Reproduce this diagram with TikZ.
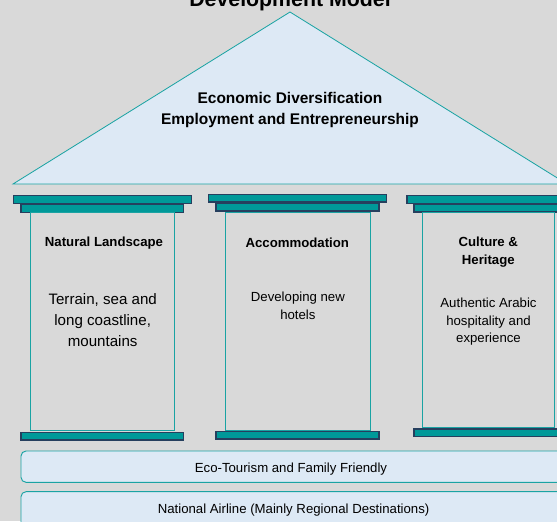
\documentclass[tikz,border=0pt]{standalone}
\usepackage{fontspec}
\setmainfont{Liberation Sans}
\definecolor{wallgray}{HTML}{D9D9D9}
\definecolor{capteal}{HTML}{009999}
\definecolor{capedge}{HTML}{263F5E}
\definecolor{lineteal}{HTML}{1AA3A3}
\definecolor{paleblue}{HTML}{DDE9F5}
\tikzset{
  wall/.style={fill=wallgray, draw=none},
  roof/.style={fill=paleblue, draw=lineteal, line width=0.7pt, line join=miter},
  capbar/.style={fill=capteal, draw=capedge, line width=1.1pt},
  shaft/.style={fill=wallgray, draw=lineteal, line width=0.7pt},
  band/.style={fill=paleblue, draw=lineteal, line width=0.8pt, rounded corners=0.15cm},
  titlelabel/.style={font=\fontsize{18.2}{20}\selectfont\bfseries, inner sep=0pt},
  rooflabel/.style={font=\fontsize{13.2}{17.7}\selectfont\bfseries, align=center, inner sep=0pt},
  headlabel/.style={font=\fontsize{11.27}{15.1}\selectfont\bfseries, align=center, inner sep=0pt},
  bodylabel/.style={font=\fontsize{11.27}{14.7}\selectfont, align=center, inner sep=0pt},
  biglabel/.style={font=\fontsize{12.9}{17.9}\selectfont, align=center, inner sep=0pt},
}
\begin{document}
\begin{tikzpicture}
\useasboundingbox (0,0) rectangle (16.710,15.630);
\fill[wall] (0,0) rectangle (16.710,15.630);
% roof
\node[titlelabel, anchor=base] (title) at (8.700,15.420) {Development Model};
\draw[roof] (0.390,10.110) -- (8.700,15.270) -- (17.010,10.110) -- cycle;
\node[rooflabel] (rooftext) at (8.700,12.320) {Economic Diversification\\Employment and Entrepreneurship};
% pillar 1
\draw[capbar] (0.399,9.759) rectangle (5.751,9.531);
\draw[capbar] (0.630,9.501) rectangle (5.511,9.261);
\draw[shaft] (0.909,9.249) rectangle (5.229,2.709);
\draw[capbar] (0.630,2.655) rectangle (5.511,2.430);
\node[headlabel] (natural) at (3.120,8.331) {Natural Landscape};
\node[biglabel] (terrain) at (3.081,6.021) {Terrain, sea and\\long coastline,\\mountains};
% pillar 2
\draw[capbar] (6.249,9.789) rectangle (11.601,9.570);
\draw[capbar] (6.480,9.531) rectangle (11.370,9.300);
\draw[shaft] (6.759,9.270) rectangle (11.100,2.730);
\draw[capbar] (6.480,2.685) rectangle (11.370,2.460);
\node[headlabel] (accom) at (8.919,8.361) {Accommodation};
\node[bodylabel] (hotels) at (8.937,6.456) {Developing new\\hotels};
% pillar 3
\draw[capbar] (12.210,9.759) rectangle (17.550,9.531);
\draw[capbar] (12.420,9.510) rectangle (17.310,9.270);
\draw[shaft] (12.669,9.249) rectangle (16.620,2.811);
\draw[capbar] (12.420,2.760) rectangle (17.310,2.529);
\node[headlabel] (culture) at (14.649,8.064) {Culture \&\\Heritage};
\node[bodylabel] (arabic) at (14.655,5.976) {Authentic Arabic\\hospitality and\\experience};
% foundation
\draw[band] (0.630,2.100) rectangle (18.000,1.161);
\node[bodylabel] (eco) at (8.730,1.551) {Eco-Tourism and Family Friendly};
\draw[band] (0.630,0.879) rectangle (18.000,-0.600);
\node[bodylabel] (airline) at (8.808,0.330) {National Airline (Mainly Regional Destinations)};
\end{tikzpicture}
\end{document}
